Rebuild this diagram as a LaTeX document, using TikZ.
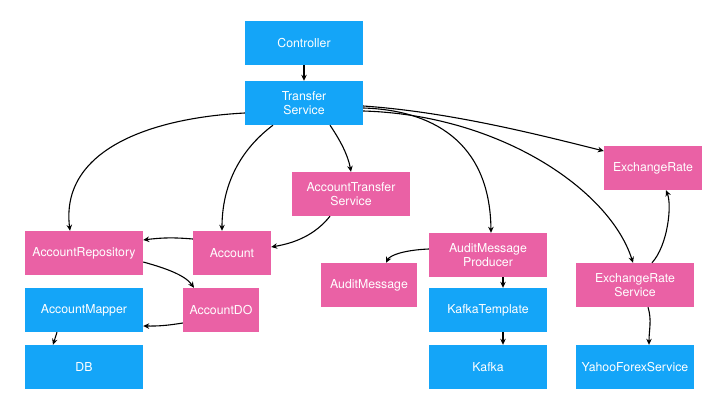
\documentclass[tikz,border=0pt]{standalone}
\usepackage{fontspec}
\setmainfont{TeX Gyre Heros}
\usetikzlibrary{arrows.meta,calc}
\definecolor{boxblue}{RGB}{20,165,248}
\definecolor{boxpink}{RGB}{234,97,165}
\tikzset{
  box/.style={minimum height=44pt,inner sep=0pt,text=white,align=center,
    font=\fontsize{12.3}{14.5}\selectfont},
  bluebox/.style={box,fill=boxblue},
  pinkbox/.style={box,fill=boxpink},
  conn/.style={draw=black,line width=1.1pt,-{Stealth[length=6pt,width=5.5pt]}}
}
\begin{document}
\begin{tikzpicture}[x=1pt,y=-1pt]
\fill[white] (0,0) rectangle (716,403);
\useasboundingbox (0,0) rectangle (716,403);
\node[bluebox,minimum width=118pt] (ctrl) at (304,43) {Controller};
\node[bluebox,minimum width=118pt] (tr) at (304,103) {Transfer\\Service};
\node[pinkbox,minimum width=118pt] (ats) at (351,194) {AccountTransfer\\Service};
\node[pinkbox,minimum width=98pt] (er) at (653,168) {ExchangeRate};
\node[pinkbox,minimum width=118pt] (arepo) at (84,253) {AccountRepository};
\node[pinkbox,minimum width=78pt] (acc) at (232,253) {Account};
\node[bluebox,minimum width=118pt] (amap) at (84,310) {AccountMapper};
\node[pinkbox,minimum width=76pt] (ado) at (221,310) {AccountDO};
\node[bluebox,minimum width=118pt] (db) at (84,367) {DB};
\node[pinkbox,minimum width=96pt] (am) at (369,285) {AuditMessage};
\node[pinkbox,minimum width=118pt] (amp) at (488,255) {AuditMessage\\Producer};
\node[bluebox,minimum width=118pt] (kt) at (488,310) {KafkaTemplate};
\node[bluebox,minimum width=118pt] (kafka) at (488,367) {Kafka};
\node[pinkbox,minimum width=118pt] (ers) at (635,285) {ExchangeRate\\Service};
\node[bluebox,minimum width=118pt] (yahoo) at (635,367) {YahooForexService};

\draw[conn] (ctrl.south) -- (tr.north);
\draw[conn] ($(tr.west)+(0,10)$) .. controls (150,118) and (60,150) .. ($(arepo.north)+(-14,0)$);
\draw[conn] ($(tr.south)+(-31,0)$) .. controls (240,150) and (222,185) .. ($(acc.north)+(-10,0)$);
\draw[conn] ($(tr.south)+(26,0)$) .. controls (340,140) and (348,155) .. (ats.north);
\draw[conn] ($(tr.east)+(0,3)$) .. controls (450,112) and (540,135) .. ($(er.west)+(0,-17)$);
\draw[conn] ($(tr.east)+(0,5)$) .. controls (430,110) and (490,140) .. ($(amp.north)+(3,0)$);
\draw[conn] ($(tr.east)+(0,8)$) .. controls (500,115) and (610,190) .. ($(ers.north)+(-2,0)$);
\draw[conn] ($(acc.west)+(0,-14)$) to[bend right=6] ($(arepo.east)+(0,-13)$);
\draw[conn] ($(ats.south)+(-21,0)$) .. controls (315,235) and (295,243) .. ($(acc.east)+(0,-6)$);
\draw[conn] ($(arepo.east)+(0,9)$) .. controls (165,268) and (185,275) .. ($(ado.north)+(-27,0)$);
\draw[conn] ($(ado.west)+(0,13)$) to[bend left=5] ($(amap.east)+(0,16)$);
\draw[conn] ($(amap.south)+(-27,0)$) -- ($(db.north)+(-31,0)$);
\draw[conn] ($(amp.west)+(0,-6)$) .. controls (405,250) and (390,255) .. ($(am.north)+(17,0)$);
\draw[conn] ($(amp.south)+(15,0)$) -- ($(kt.north)+(15,0)$);
\draw[conn] ($(kt.south)+(15,0)$) -- ($(kafka.north)+(15,0)$);
\draw[conn] ($(ers.north)+(17,0)$) .. controls (668,245) and (672,205) .. ($(er.south)+(13,0)$);
\draw[conn] ($(ers.south)+(13,0)$) .. controls (652,320) and (649,330) .. ($(yahoo.north)+(14,0)$);
\end{tikzpicture}
\end{document}
